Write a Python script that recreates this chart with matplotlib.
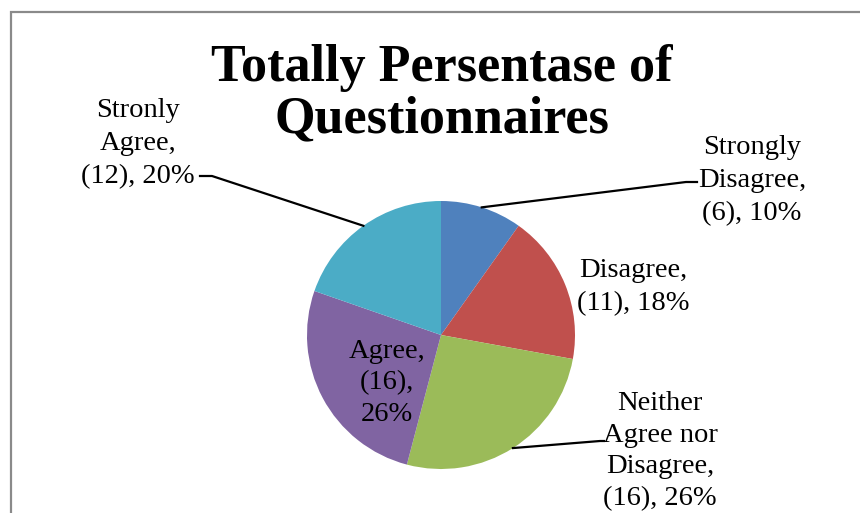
import matplotlib
matplotlib.use("Agg")
import matplotlib.pyplot as plt
from matplotlib.patches import Rectangle
from matplotlib.lines import Line2D
import numpy as np

categories = ["Strongly Disagree", "Disagree", "Neither Agree nor Disagree", "Agree", "Stronly Agree"]
counts = [6, 11, 16, 16, 12]
percents = [10, 18, 26, 26, 20]
label_texts = [
    "Strongly\nDisagree,\n(6), 10%",
    "Disagree,\n(11), 18%",
    "Neither\nAgree nor\nDisagree,\n(16), 26%",
    "Agree,\n(16),\n26%",
    "Stronly\nAgree,\n(12), 20%",
]
colors = ["#4F81BD", "#C0504D", "#9BBB59", "#8064A2", "#4BACC6"]
title = "Totally Persentase of\nQuestionnaires"

W, H = 860, 513
fig = plt.figure(figsize=(W / 100, H / 100), dpi=100)
fig.patch.set_facecolor("white")

FONT = "Liberation Serif"

def fx(px):
    return px / W

def fy(py):
    return 1 - py / H

# chart border (partially cropped)
fig.add_artist(Rectangle((fx(10.5), -0.2), 2.0, fy(12) + 0.2, transform=fig.transFigure,
                         fill=False, edgecolor="#8a8a8a", linewidth=1.6))

cx, cy, r = 441, 335, 134
ax = fig.add_axes([fx(cx - r), fy(cy + r), 2 * r / W, 2 * r / H])
wedges, _ = ax.pie(counts, colors=colors, startangle=90, counterclock=False, radius=1,
                   wedgeprops=dict(linewidth=0))
ax.set_xlim(-1, 1)
ax.set_ylim(-1, 1)
ax.set_aspect("auto")
ax.axis("off")

# label positions (pixel, from top) - layout only
label_pos = [(752, 181), (633, 287), (660, 451), (387, 383), (138, 144)]
spacings = [1.42, 1.42, 1.36, 1.32, 1.42]
for txt, (px, py), ls in zip(label_texts, label_pos, spacings):
    fig.text(fx(px), fy(py), txt, ha="center", va="center", fontsize=20.5,
             family=FONT, linespacing=ls, color="black")

# leader lines: from wedge midpoint on the rim to an elbow near the label
def rim_point(i):
    w = wedges[i]
    mid = np.deg2rad((w.theta1 + w.theta2) / 2)
    p = ax.transData.transform((np.cos(mid), np.sin(mid)))
    return fig.transFigure.inverted().transform(p)

leaders = {0: [(686, 182), (697, 182)], 2: [(600, 441), (604, 441)], 4: [(212, 176), (200, 176)]}
for i, pts in leaders.items():
    x0, y0 = rim_point(i)
    xs = [x0] + [fx(p[0]) for p in pts]
    ys = [y0] + [fy(p[1]) for p in pts]
    fig.add_artist(Line2D(xs, ys, transform=fig.transFigure, color="black", linewidth=1.6))

fig.text(fx(442), fy(94), title, ha="center", va="center", fontsize=37.5, fontweight="bold",
         family=FONT, linespacing=1.1, color="black")

fig.savefig("out.png", dpi=100)
